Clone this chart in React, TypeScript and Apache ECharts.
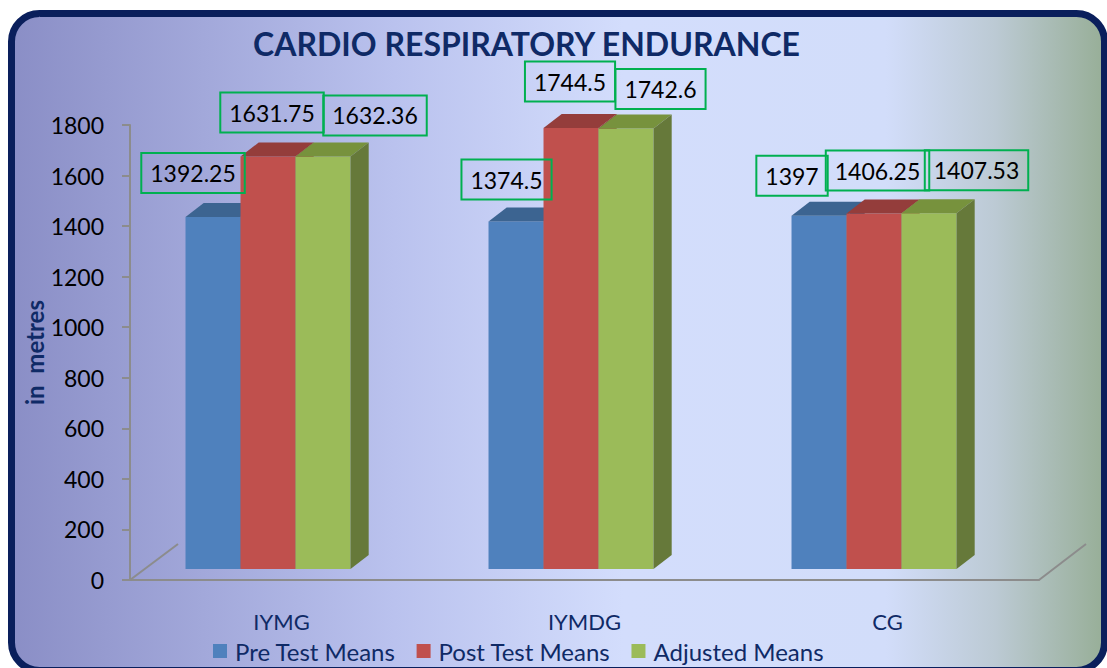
import React, { useEffect, useRef } from "react";
import * as echarts from "echarts";

const categories = ["IYMG", "IYMDG", "CG"];
const seriesNames = ["Pre Test Means", "Post Test Means", "Adjusted Means"];
const preTestMeans = [1392.25, 1374.5, 1397];
const postTestMeans = [1631.75, 1744.5, 1406.25];
const adjustedMeans = [1632.36, 1742.6, 1407.53];
const yMin = 0;
const yMax = 1800;
const yStep = 200;

// label box centre offsets relative to top-front-centre of each bar (px)
const labelShift: number[][][] = [
  [[-20, -44], [-9.5, -42], [-27, -40]],
  [[4, -44], [-1, -46.5], [3.5, -43]],
  [[52, -41], [34.5, -39.5], [47.5, -43]],
];

const FRONT = ["#4F81BD", "#C0504D", "#9BBB59"];
const TOP = ["#3C6491", "#943D3B", "#77923D"];
const SIDE = ["#385D8A", "#8C3836", "#66793A"];
const NAVY = "#0F2A66";
const FONT = "Lato, 'Open Sans', sans-serif";

function makeRender(sIdx: number) {
  return (params: any, api: any) => {
    const cat = api.value(0);
    const v = api.value(1);
    const base = api.coord([cat, 0]);
    const top = api.coord([cat, v]);
    const band = api.size([1, 0])[0];
    const bw = band * 0.1815;
    const lift = 11;
    const x0 = base[0] - band * 0.0445 - 1.5 * bw + sIdx * bw;
    const yb = base[1] - lift;
    const yt = top[1] - lift;
    const dx = band * 0.06;
    const dy = 14;
    const sh = labelShift[sIdx][params.dataIndex];
    return {
      type: "group",
      children: [
        { type: "rect", shape: { x: x0, y: yt, width: bw, height: yb - yt }, style: { fill: FRONT[sIdx] } },
        {
          type: "polygon",
          shape: { points: [[x0, yt], [x0 + dx, yt - dy], [x0 + bw + dx, yt - dy], [x0 + bw, yt]] },
          style: { fill: TOP[sIdx] },
        },
        {
          type: "polygon",
          shape: { points: [[x0 + bw, yt], [x0 + bw + dx, yt - dy], [x0 + bw + dx, yb - dy], [x0 + bw, yb]] },
          style: { fill: SIDE[sIdx] },
        },
        {
          type: "text",
          z2: 100,
          style: {
            text: String(v),
            x: x0 + bw / 2 + sh[0],
            y: yt + sh[1],
            align: "center",
            verticalAlign: "middle",
            fontSize: 23,
            fontFamily: FONT,
            fill: "#000000",
            borderColor: "#00B050",
            borderWidth: 2,
            padding: [9, 9, 8, 9],
          },
        },
      ],
    };
  };
}

export default function App() {
  const ref = useRef<HTMLDivElement>(null);
  useEffect(() => {
    document.body.style.margin = "0";
    const chart = echarts.init(ref.current!, null, { renderer: "svg" });
    const allSeries = [preTestMeans, postTestMeans, adjustedMeans];
    chart.setOption({
      animation: false,
      backgroundColor: "#ffffff",
      title: {
        text: "CARDIO RESPIRATORY ENDURANCE",
        left: 248,
        top: 22,
        textStyle: { fontSize: 32, fontWeight: "bold", fontFamily: FONT, color: NAVY },
      },
      graphic: [
        {
          type: "rect",
          z: -10,
          shape: { x: 11.5, y: 13.5, width: 1093, height: 657, r: 28 },
          style: {
            stroke: "#0A1F5C",
            lineWidth: 7,
            fill: new echarts.graphic.LinearGradient(0, 0, 1, 0, [
              { offset: 0, color: "#8A8EC6" },
              { offset: 0.35, color: "#BAC2EE" },
              { offset: 0.56, color: "#D3DDFC" },
              { offset: 0.8, color: "#D2DDFA" },
              { offset: 0.9, color: "#BCCAD4" },
              { offset: 1, color: "#97AE97" },
            ]),
          },
        },
        { type: "line", z: 1, shape: { x1: 130, y1: 580, x2: 178, y2: 544 }, style: { stroke: "#8C8C8C", lineWidth: 2 } },
        { type: "line", z: 1, shape: { x1: 1039, y1: 580, x2: 1086, y2: 544 }, style: { stroke: "#8C8C8C", lineWidth: 2 } },
      ],
      legend: {
        left: 213,
        top: 638,
        padding: 0,
        itemWidth: 14,
        itemHeight: 14,
        itemGap: 21,
        icon: "rect",
        textStyle: { fontSize: 24, lineHeight: 26, fontFamily: FONT, color: NAVY, padding: [0, 0, 0, 3] },
        data: seriesNames,
      },
      grid: { left: 130, right: 68, top: 125, bottom: 88 },
      xAxis: {
        type: "category",
        data: categories,
        axisLine: { show: true, lineStyle: { color: "#8C8C8C", width: 2 } },
        axisTick: { show: false },
        axisLabel: { fontSize: 22, fontFamily: FONT, color: NAVY, margin: 30 },
        splitLine: { show: false },
      },
      yAxis: {
        type: "value",
        min: yMin,
        max: yMax,
        interval: yStep,
        name: "in  metres",
        nameLocation: "middle",
        nameRotate: 90,
        nameGap: 84,
        nameMoveOverlap: false,
        nameTextStyle: { fontSize: 24, fontWeight: "bold", fontFamily: FONT, color: NAVY },
        axisLine: { show: true, lineStyle: { color: "#8C8C8C", width: 2 } },
        axisTick: { show: true, inside: false, length: 8, lineStyle: { color: "#8C8C8C", width: 2 } },
        axisLabel: { fontSize: 23, fontFamily: FONT, color: "#000000", margin: 26, formatter: (v: number) => String(v) },
        splitLine: { show: false },
      },
      series: allSeries.map((vals, sIdx) => ({
        type: "custom",
        name: seriesNames[sIdx],
        itemStyle: { color: FRONT[sIdx] },
        renderItem: makeRender(sIdx),
        data: vals.map((v, i) => [i, v]),
        z: 3,
      })),
    });
    return () => chart.dispose();
  }, []);
  return <div ref={ref} style={{ width: 1107, height: 668 }} />;
}
